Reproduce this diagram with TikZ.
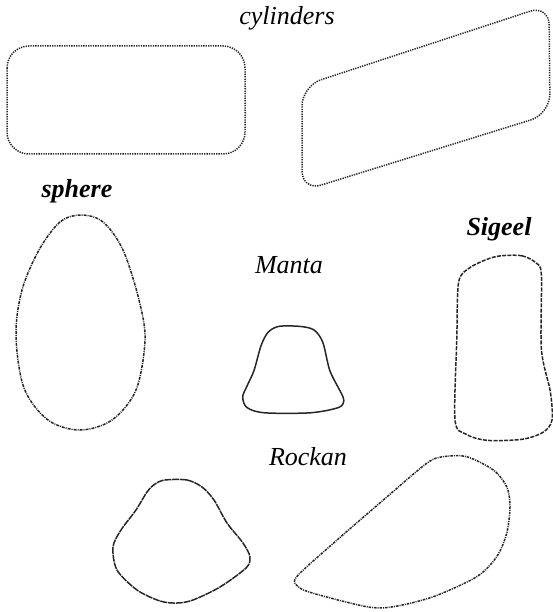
\documentclass[tikz,border=0pt]{standalone}
\usepackage{fontspec}
\setmainfont{Liberation Serif}
\begin{document}
\begin{tikzpicture}[x=1pt,y=-1pt,
  lbl/.style={anchor=base,inner sep=0pt,font=\fontsize{26}{30}\selectfont\itshape},
  blbl/.style={lbl,font=\fontsize{26}{30}\selectfont\bfseries\itshape},
  outl/.style={line width=1.5pt,draw=black!85},
  dotline/.style={outl,dash pattern=on 1.3pt off 1.1pt},
  dashdotline/.style={outl,dash pattern=on 3pt off 1pt on 1pt off 1pt},
  dashline/.style={outl,dash pattern=on 4pt off 1.3pt},
  fineline/.style={outl,dash pattern=on 7pt off 0.8pt},
  mixline/.style={outl,dash pattern=on 2.5pt off 1pt on 1pt off 1pt}]
\useasboundingbox (0,0) rectangle (553,612);

% labels
\node[lbl]  (cyl) at (287,25) {cylinders};
\node[blbl] (sph) at (77,197) {sphere};
\node[blbl] (sig) at (499,235) {Sigeel};
\node[lbl]  (man) at (289,273) {Manta};
\node[lbl]  (roc) at (308,465) {Rockan};

% cylinders
\draw[dotline,rounded corners=22pt] (7,46) rectangle (245,154);
\draw[dotline,rounded corners=20pt] (302,86) -- (549,5) -- (550,114) -- (302,191) -- cycle;

% sphere
\draw[dashdotline] plot[smooth cycle,tension=0.55] coordinates {
  (81,215) (60,222) (39,250) (22,290) (16,335) (24,388) (48,420) (80,430)
  (112,420) (136,390) (145,340) (139,300) (123,250) (103,222)};

% Manta
\draw[outl] plot[smooth cycle,tension=0.5] coordinates {
  (278.7,326.4) (299.8,326.4) (313.9,329.9) (322.8,342.3) (329.8,370.5)
  (340.4,391.6) (343.9,400.5) (338.6,407.5) (310.4,412.8) (264.6,412.8)
  (246.9,407.5) (242.7,396.9) (246.9,386.3) (254,370.5) (261,345.8) (268,332.4)};

% Sigeel
\draw[dashline] plot[smooth cycle,tension=0.5] coordinates {
  (500.9,255.8) (522,255.8) (536,262.9) (541.4,275.2) (541.4,349.3)
  (550.3,391.6) (552,419.9) (543.2,432.2) (522,439.3) (486.8,440.3)
  (465.6,434) (455,419.9) (456.8,338.7) (458.6,282.3) (469.1,268.2) (486.8,259.4)};

% Rockan
\draw[fineline] plot[smooth cycle,tension=0.5] coordinates {
  (165,480) (187,480) (202,487) (214,500) (227,523) (243,543)
  (250,557) (246,568) (220,587) (193,600) (177,603) (160,601)
  (137,590) (117,570) (113,547) (121,530) (136,510) (147,492) (155,484)};
\draw[mixline] plot[smooth cycle,tension=0.5] coordinates {
  (443.3,456.7) (466.7,456.7) (493.3,470) (506.7,486.7) (510,506.7)
  (506.7,533.3) (496.7,556.7) (476.7,576.7) (433.3,596.7) (393.3,606.7)
  (366.7,606.7) (313.3,593.3) (298.3,586.7) (296.7,576.7) (333.3,543.3)
  (383.3,500) (426.7,463.3)};
\end{tikzpicture}
\end{document}
